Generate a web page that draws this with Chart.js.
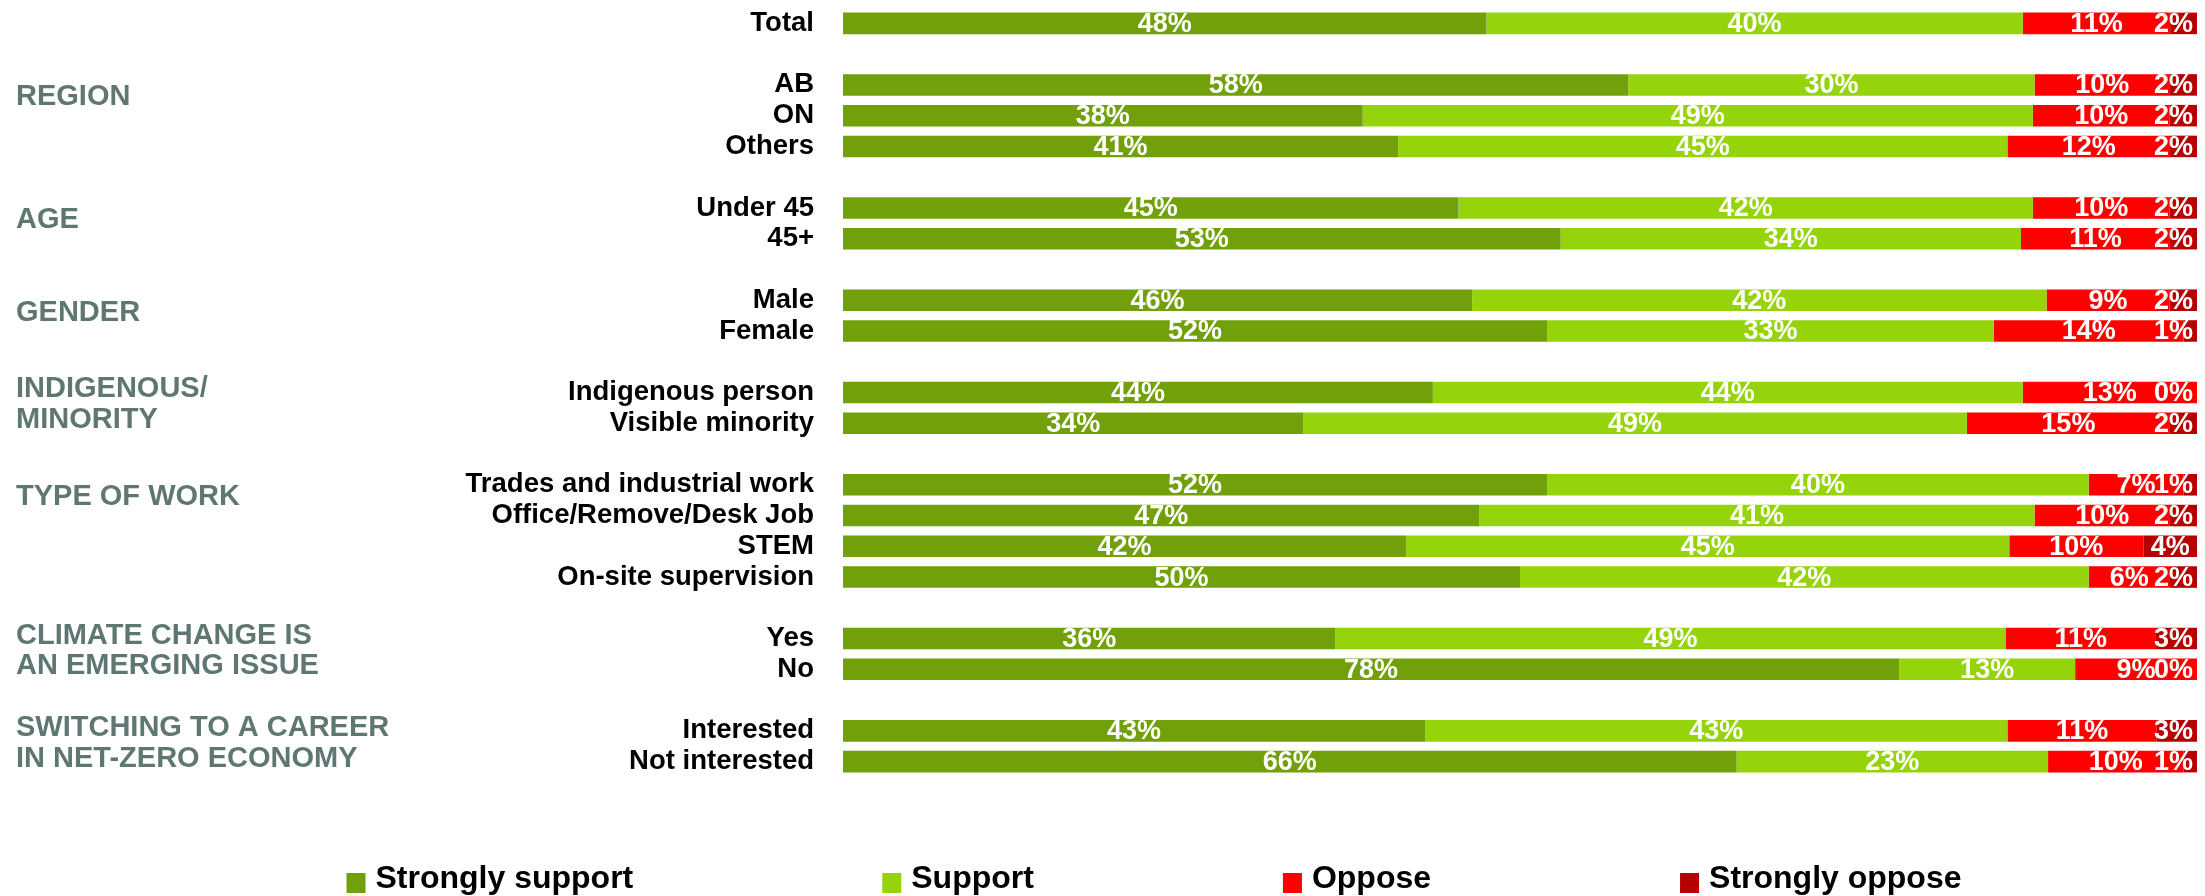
<!DOCTYPE html>
<html>
<head>
<meta charset="utf-8">
<script src="https://cdn.jsdelivr.net/npm/chart.js@4/dist/chart.umd.min.js"></script>
<style>
  html, body { margin: 0; padding: 0; background: #fff; }
  #wrap { width: 2205px; height: 896px; position: relative; }
</style>
</head>
<body>
<div id="wrap"><canvas id="chart"></canvas></div>
<script>
// rows of the chart, '' = spacer row between groups
const categories = ['Total', '', 'AB', 'ON', 'Others', '', 'Under 45', '45+', '', 'Male', 'Female', '',
    'Indigenous person', 'Visible minority', '', 'Trades and industrial work', 'Office/Remove/Desk Job',
    'STEM', 'On-site supervision', '', 'Yes', 'No', '', 'Interested', 'Not interested'];

const seriesNames = ['Strongly support', 'Support', 'Oppose', 'Strongly oppose'];

const strongSupport = [48, null, 58, 38, 41, null, 45, 53, null, 46, 52, null, 44, 34, null, 52, 47, 42, 50, null, 36, 78, null, 43, 66];
const support       = [40, null, 30, 49, 45, null, 42, 34, null, 42, 33, null, 44, 49, null, 40, 41, 45, 42, null, 49, 13, null, 43, 23];
const oppose        = [11, null, 10, 10, 12, null, 10, 11, null, 9, 14, null, 13, 15, null, 7, 10, 10, 6, null, 11, 9, null, 11, 10];
const strongOppose  = [2, null, 2, 2, 2, null, 2, 2, null, 2, 1, null, 0, 2, null, 1, 2, 4, 2, null, 3, 0, null, 3, 1];

const groupLabels = [['REGION'], ['AGE'], ['GENDER'], ['INDIGENOUS/', 'MINORITY'], ['TYPE OF WORK'],
    ['CLIMATE CHANGE IS', 'AN EMERGING ISSUE'], ['SWITCHING TO A CAREER', 'IN NET-ZERO ECONOMY']];
const groupFirstRow = ['AB', 'Under 45', 'Male', 'Indigenous person', 'Trades and industrial work', 'Yes', 'Interested'];

const colors = ['#71a00b', '#95d40b', '#ff0000', '#b70000'];
const FONT = "'Liberation Sans', Arial, sans-serif";

const raw = [strongSupport, support, oppose, strongOppose];

// bars are drawn as share of the row so every bar ends at 100
const rowTotals = categories.map((c, j) => raw.reduce((s, arr) => s + (arr[j] || 0), 0));
const datasets = raw.map((arr, i) => ({
    label: seriesNames[i],
    data: arr.map((v, j) => v === null ? null : v / rowTotals[j] * 100),
    backgroundColor: colors[i],
    borderWidth: 0,
    barPercentage: 0.7,
    categoryPercentage: 1
}));

// white % labels inside segments
const valueLabels = {
    id: 'valueLabels',
    afterDatasetsDraw(chart) {
        const ctx = chart.ctx;
        const area = chart.chartArea;
        ctx.save();
        ctx.font = 'bold 27px ' + FONT;
        ctx.fillStyle = '#fff';
        ctx.textAlign = 'center';
        ctx.textBaseline = 'middle';
        raw.forEach((arr, i) => {
            const meta = chart.getDatasetMeta(i);
            meta.data.forEach((bar, j) => {
                if (arr[j] === null) return;
                const txt = arr[j] + '%';
                const w = ctx.measureText(txt).width;
                let x = (bar.x + bar.base) / 2;
                if (x + w / 2 > area.right - 4) x = area.right - 4 - w / 2;
                ctx.fillText(txt, x, bar.y + 1);
            });
        });
        ctx.restore();
    }
};

// grey group titles on the left
const groupTitles = {
    id: 'groupTitles',
    afterDraw(chart) {
        const ctx = chart.ctx;
        const y = chart.scales.y;
        ctx.save();
        ctx.font = 'bold 29px ' + FONT;
        ctx.fillStyle = '#5f7773';
        ctx.textAlign = 'left';
        ctx.textBaseline = 'middle';
        groupLabels.forEach((lines, g) => {
            const mid = categories.indexOf(groupFirstRow[g]) + 0.4;
            lines.forEach((line, k) => {
                const row = mid + k - (lines.length - 1) / 2;
                ctx.fillText(line, 16, y.getPixelForValue(row));
            });
        });
        ctx.restore();
    }
};

// legend row at the bottom
const bottomLegend = {
    id: 'bottomLegend',
    afterDraw(chart) {
        const ctx = chart.ctx;
        ctx.save();
        ctx.font = 'bold 32px ' + FONT;
        const box = 19, gapText = 10, gapItem = 249;
        const widths = chart.data.datasets.map(d => box + gapText + ctx.measureText(d.label).width);
        const total = widths.reduce((a, b) => a + b, 0) + gapItem * (widths.length - 1);
        let x = 1154 - total / 2;
        const baseY = chart.height - 8;
        chart.data.datasets.forEach((d, i) => {
            ctx.fillStyle = d.backgroundColor;
            ctx.fillRect(x, baseY - 15, box, 20);
            ctx.fillStyle = '#000';
            ctx.textAlign = 'left';
            ctx.textBaseline = 'alphabetic';
            ctx.fillText(d.label, x + box + gapText, baseY);
            x += widths[i] + gapItem;
        });
        ctx.restore();
    }
};

new Chart(document.getElementById('chart'), {
    type: 'bar',
    data: { labels: categories, datasets: datasets },
    options: {
        indexAxis: 'y',
        responsive: true,
        maintainAspectRatio: false,
        animation: false,
        layout: { padding: { top: 8, right: 8, bottom: 119, left: 0 } },
        plugins: {
            legend: { display: false },
            tooltip: { enabled: false }
        },
        scales: {
            x: { stacked: true, min: 0, max: 100, display: false },
            y: {
                stacked: true,
                grid: { display: false, drawTicks: false },
                border: { display: false },
                ticks: {
                    autoSkip: false,
                    padding: 29,
                    color: '#000',
                    font: { family: FONT, size: 27.5, weight: 'bold' }
                },
                afterFit(scale) {
                    scale.width = 843;
                    scale.paddingTop = 0;
                    scale.paddingBottom = 0;
                }
            }
        }
    },
    plugins: [valueLabels, groupTitles, bottomLegend]
});
</script>
</body>
</html>
